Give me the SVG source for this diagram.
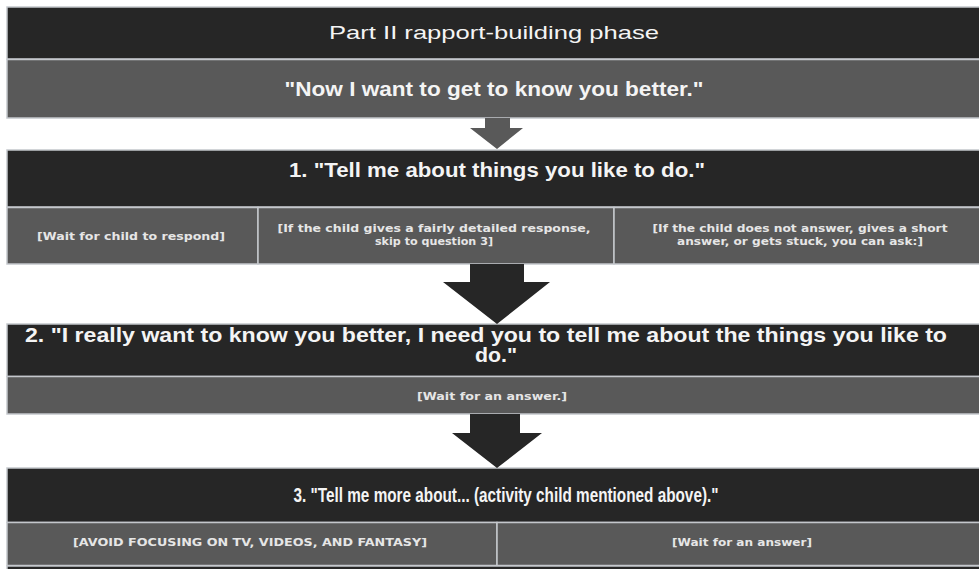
<svg xmlns="http://www.w3.org/2000/svg" width="979" height="569" viewBox="0 0 979 569">
  <style>
    .dark { fill: #262626; stroke: #c4c7cc; stroke-width: 1.5; }
    .gray { fill: #595959; stroke: #c4c7cc; stroke-width: 1.5; }
    .head { font-family: "Liberation Sans", Arial, sans-serif; font-weight: bold; font-size: 20px; fill: #f4f4f4; text-anchor: middle; }
    .title { font-family: "Liberation Sans", Arial, sans-serif; font-size: 19px; fill: #f4f4f4; text-anchor: middle; }
    .note { font-family: "DejaVu Sans", Verdana, sans-serif; font-weight: bold; font-size: 10px; fill: #e6e6e6; text-anchor: middle; }
  </style>
  <rect width="979" height="569" fill="#ffffff"/>

  <g id="phase-title">
    <rect class="dark" x="7" y="7" width="985" height="52"/>
    <text class="title" x="494" y="39" textLength="330" lengthAdjust="spacingAndGlyphs">Part II rapport-building phase</text>
  </g>

  <g id="intro">
    <rect class="gray" x="7" y="59.5" width="985" height="58.5"/>
    <text class="head" x="494" y="96" textLength="419" lengthAdjust="spacingAndGlyphs">"Now I want to get to know you better."</text>
  </g>

  <g id="question-1">
    <rect class="dark" x="7" y="150" width="985" height="57"/>
    <text class="head" x="497" y="177" textLength="416" lengthAdjust="spacingAndGlyphs">1. "Tell me about things you like to do."</text>
  </g>

  <g id="q1-wait">
    <rect class="gray" x="7" y="207.5" width="251" height="56.5"/>
    <text class="note" x="131" y="240" textLength="188" lengthAdjust="spacingAndGlyphs">[Wait for child to respond]</text>
  </g>

  <g id="q1-detailed">
    <rect class="gray" x="258" y="207.5" width="356" height="56.5"/>
    <text class="note" x="434" y="232" textLength="313" lengthAdjust="spacingAndGlyphs">[If the child gives a fairly detailed response,</text>
    <text class="note" x="434" y="245" textLength="118" lengthAdjust="spacingAndGlyphs">skip to question 3]</text>
  </g>

  <g id="q1-short">
    <rect class="gray" x="614" y="207.5" width="378" height="56.5"/>
    <text class="note" x="800" y="232" textLength="295" lengthAdjust="spacingAndGlyphs">[If the child does not answer, gives a short</text>
    <text class="note" x="800" y="245" textLength="246" lengthAdjust="spacingAndGlyphs">answer, or gets stuck, you can ask:]</text>
  </g>

  <g id="question-2">
    <rect class="dark" x="7" y="324" width="985" height="52.5"/>
    <text class="head" x="486" y="342" textLength="922" lengthAdjust="spacingAndGlyphs">2. "I really want to know you better, I need you to tell me about the things you like to</text>
    <text class="head" x="496" y="362" textLength="42" lengthAdjust="spacingAndGlyphs">do."</text>
  </g>

  <g id="q2-wait">
    <rect class="gray" x="7" y="376.5" width="985" height="37.5"/>
    <text class="note" x="492" y="400" textLength="150" lengthAdjust="spacingAndGlyphs">[Wait for an answer.]</text>
  </g>

  <g id="question-3">
    <rect class="dark" x="7" y="468" width="985" height="54.5"/>
    <text class="head" x="506" y="502" textLength="425" lengthAdjust="spacingAndGlyphs" style="font-size:21px">3. "Tell me more about... (activity child mentioned above)."</text>
  </g>

  <g id="q3-avoid">
    <rect class="gray" x="7" y="522.5" width="490" height="43"/>
    <text class="note" x="250" y="546" textLength="354" lengthAdjust="spacingAndGlyphs">[AVOID FOCUSING ON TV, VIDEOS, AND FANTASY]</text>
  </g>

  <g id="q3-wait">
    <rect class="gray" x="497" y="522.5" width="495" height="43"/>
    <text class="note" x="742" y="546" textLength="140" lengthAdjust="spacingAndGlyphs">[Wait for an answer]</text>
  </g>

  <g id="next-step">
    <rect class="dark" x="7" y="566" width="985" height="20"/>
  </g>

  <g id="connectors">
    <polygon fill="#595959" points="485,118 510,118 510,128 523,128 497,149 470,128 485,128"/>
    <polygon fill="#262626" points="470,264 524,264 524,282 550,282 497,324 443,282 470,282"/>
    <polygon fill="#262626" points="470,414 520,414 520,433 542,433 497,468 452,433 470,433"/>
  </g>
</svg>
